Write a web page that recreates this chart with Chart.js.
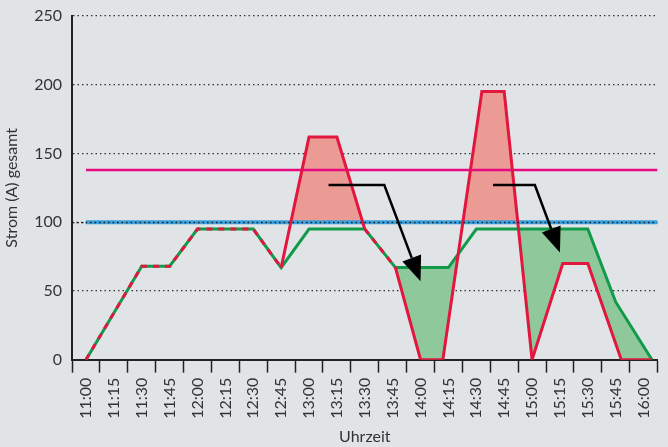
<!DOCTYPE html>
<html>
<head>
<meta charset="utf-8">
<script src="https://cdn.jsdelivr.net/npm/chart.js@4/dist/chart.umd.min.js"></script>
<style>
    html, body { margin: 0; padding: 0; background: #e1e4e7; }
    #wrap { width: 668px; height: 447px; }
</style>
</head>
<body>
<div id="wrap"><canvas id="strom"></canvas></div>
<script>
(function () {
    "use strict";

    // Uhrzeiten (Kategorien)
    var zeiten = ["11:00", "11:15", "11:30", "11:45", "12:00", "12:15", "12:30", "12:45",
                  "13:00", "13:15", "13:30", "13:45", "14:00", "14:15", "14:30", "14:45",
                  "15:00", "15:15", "15:30", "15:45", "16:00"];

    // x = Viertelstunden ab 11:00
    var rotX = [0, 2, 3, 4, 6, 7, 8, 9, 10, 11.1, 12, 12.8, 14.2, 15, 16, 17.1, 18, 19.2, 20.3];
    var rotY = [0, 68, 68, 95, 95, 67, 162, 162, 95, 67, 0, 0, 195, 195, 0, 70, 70, 0, 0];

    var gruenX = [0, 2, 3, 4, 6, 7, 8, 10, 11.1, 13, 14, 18, 19, 20.3];
    var gruenY = [0, 68, 68, 95, 95, 67, 95, 95, 67, 67, 95, 95, 42, 0];

    var grenzeOben = 138;
    var grenzeUnten = 100;
    var grenzeX = [0, 20.5];

    var yTicks = [0, 50, 100, 150, 200, 250];

    // Pfeile: [x, y] in Datenwerten
    var pfeile = [
        [[8.7, 127], [10.7, 127], [12.0, 57]],
        [[14.6, 127], [16.1, 127], [17.0, 78]]
    ];

    function punkte(xs, ys) {
        return xs.map(function (x, i) { return {x: x, y: ys[i]}; });
    }

    // Segment der roten Linie liegt auf der gruenen?
    function gemeinsam(ctx) {
        var a = ctx.p0.parsed, b = ctx.p1.parsed;
        for (var i = 0; i < gruenX.length - 1; i++) {
            if (gruenX[i] === a.x && gruenY[i] === a.y && gruenX[i + 1] === b.x && gruenY[i + 1] === b.y) {
                return true;
            }
        }
        return false;
    }

    var extras = {
        id: 'extras',
        afterDatasetsDraw: function (chart) {
            var ctx = chart.ctx, sx = chart.scales.x, sy = chart.scales.y, area = chart.chartArea;

            // Punktlinie bei 100 ueber der blauen Linie
            var py = Math.round(sy.getPixelForValue(grenzeUnten)) + 0.5;
            ctx.save();
            ctx.strokeStyle = "#222";
            ctx.lineWidth = 1.3;
            ctx.setLineDash([1.5, 3]);
            ctx.beginPath();
            ctx.moveTo(area.left, py);
            ctx.lineTo(area.right, py);
            ctx.stroke();
            ctx.restore();

            // Pfeile
            pfeile.forEach(function (p) {
                var pts = p.map(function (q) { return [sx.getPixelForValue(q[0]), sy.getPixelForValue(q[1])]; });
                var tip = pts[2], prev = pts[1];
                var ang = Math.atan2(tip[1] - prev[1], tip[0] - prev[0]);
                var len = 25, half = 10;
                var bx = tip[0] - len * Math.cos(ang), by = tip[1] - len * Math.sin(ang);
                ctx.save();
                ctx.strokeStyle = "#000";
                ctx.fillStyle = "#000";
                ctx.lineWidth = 2.5;
                ctx.beginPath();
                ctx.moveTo(pts[0][0], pts[0][1]);
                ctx.lineTo(pts[1][0], pts[1][1]);
                ctx.lineTo(bx, by);
                ctx.stroke();
                ctx.beginPath();
                ctx.moveTo(tip[0], tip[1]);
                ctx.lineTo(bx + half * Math.sin(ang), by - half * Math.cos(ang));
                ctx.lineTo(bx - half * Math.sin(ang), by + half * Math.cos(ang));
                ctx.closePath();
                ctx.fill();
                ctx.restore();
            });
        }
    };

    var schrift = "Lato, 'Open Sans', sans-serif";

    new Chart(document.getElementById("strom"), {
        type: "line",
        data: {
            datasets: [{
                    label: "Strom",
                    data: punkte(rotX, rotY),
                    borderColor: "#e2163f",
                    borderWidth: 3,
                    pointRadius: 0,
                    fill: {target: {value: grenzeUnten}, above: "#ec9a94", below: "rgba(0,0,0,0)"},
                    segment: {
                        borderDash: function (ctx) { return gemeinsam(ctx) ? [6, 6] : undefined; }
                    }
                },
                {
                    label: "Verschoben",
                    data: punkte(gruenX, gruenY),
                    borderColor: "#119a49",
                    borderWidth: 3,
                    pointRadius: 0,
                    fill: {target: 0, above: "#8fc99b", below: "rgba(0,0,0,0)"}
                },
                {
                    label: "Grenze oben",
                    data: punkte(grenzeX, [grenzeOben, grenzeOben]),
                    borderColor: "#e8087f",
                    borderWidth: 2.5,
                    pointRadius: 0,
                    fill: false
                },
                {
                    label: "Grenze unten",
                    data: punkte(grenzeX, [grenzeUnten, grenzeUnten]),
                    borderColor: "#3a9fdc",
                    borderWidth: 4,
                    pointRadius: 0,
                    fill: false
                }
            ]
        },
        options: {
            responsive: true,
            maintainAspectRatio: false,
            animation: false,
            layout: {padding: {top: 0, right: 9, left: 2, bottom: 1}},
            plugins: {
                legend: {display: false},
                tooltip: {enabled: false},
                filler: {drawTime: "beforeDatasetsDraw"}
            },
            scales: {
                x: {
                    type: "linear",
                    min: -0.5,
                    max: 20.5,
                    afterBuildTicks: function (axis) {
                        axis.ticks = zeiten.map(function (z, i) { return {value: i}; });
                    },
                    ticks: {
                        autoSkip: false,
                        maxRotation: 90,
                        minRotation: 90,
                        padding: 5,
                        color: "#333",
                        font: {family: schrift, size: 16},
                        callback: function (v) { return zeiten[v]; }
                    },
                    grid: {
                        offset: true,
                        drawOnChartArea: false,
                        tickLength: 13,
                        tickColor: "#222",
                        tickWidth: 1.5
                    },
                    border: {color: "#222", width: 2},
                    title: {
                        display: true,
                        text: "Uhrzeit",
                        color: "#333",
                        font: {family: schrift, size: 16},
                        padding: {top: 3, bottom: 0}
                    }
                },
                y: {
                    min: 0,
                    max: 250,
                    afterBuildTicks: function (axis) {
                        axis.ticks = yTicks.map(function (v) { return {value: v}; });
                    },
                    afterFit: function (axis) {
                        axis.paddingTop = 16;
                    },
                    ticks: {
                        padding: 10,
                        color: "#333",
                        font: {family: schrift, size: 16}
                    },
                    grid: {
                        drawTicks: false,
                        color: function (c) { return c.tick && c.tick.value === 0 ? "rgba(0,0,0,0)" : "#333"; },
                        lineWidth: 1.3
                    },
                    border: {color: "#222", width: 2, dash: [1.5, 3]},
                    title: {
                        display: true,
                        text: "Strom (A) gesamt",
                        color: "#333",
                        font: {family: schrift, size: 16},
                        padding: {top: 0, bottom: 3}
                    }
                }
            }
        },
        plugins: [extras]
    });
})();
</script>
</body>
</html>
